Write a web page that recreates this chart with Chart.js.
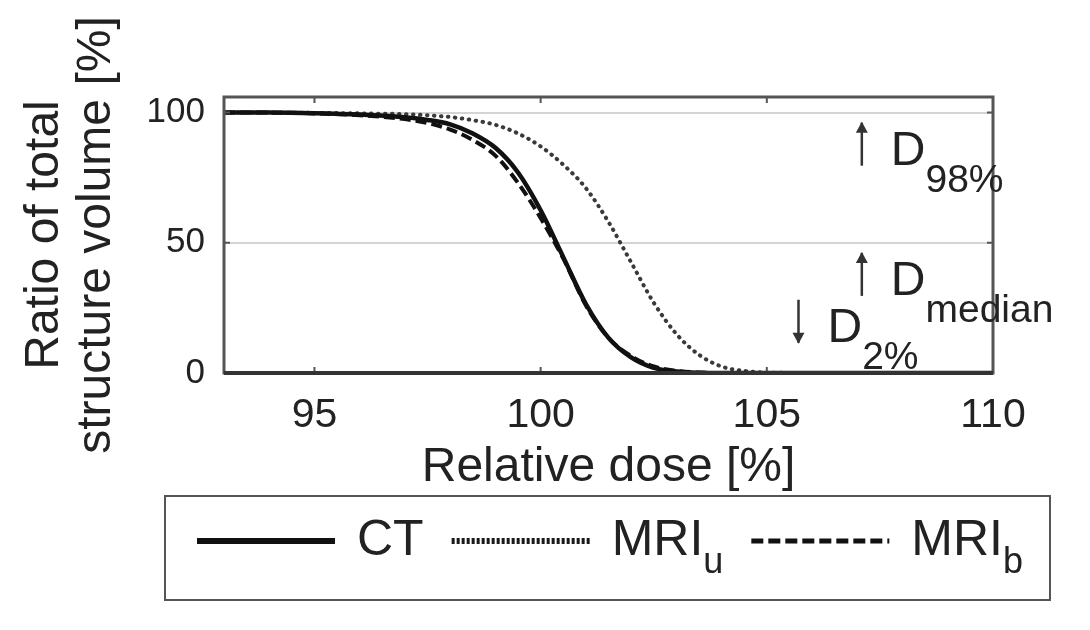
<!DOCTYPE html>
<html>
<head>
<meta charset="utf-8">
<script src="https://cdn.jsdelivr.net/npm/chart.js@4"></script>
<style>
  html, body { margin: 0; padding: 0; background: #fff; }
</style>
</head>
<body>
<canvas id="dvh-chart" width="1090" height="630"></canvas>
<script>
// dose-volume histogram: CT vs MRI
const doses = [93, 94, 95, 96, 97, 97.5, 98, 98.5, 99, 99.5, 100, 100.5, 101, 101.5, 102, 102.5, 103, 103.5, 104, 104.5, 105, 106, 107, 108, 109, 110];
const ct   = [100, 100, 99.8, 99.3, 98.2, 97.2, 95.5, 92, 86.5, 77, 62.5, 44.5, 26.5, 13.5, 6, 2, 0.6, 0.1, 0, 0, 0, 0, 0, 0, 0, 0];
const mriU = [100, 100, 99.9, 99.7, 99.4, 99, 98.3, 97.1, 95.3, 92, 87, 80, 71, 58, 42.5, 27, 15, 7, 2.5, 0.8, 0.2, 0, 0, 0, 0, 0];
const mriB = [100, 100, 99.7, 99, 97.5, 96, 93.5, 89.5, 83.5, 73, 59.5, 44, 26, 13.5, 6.5, 2.5, 0.8, 0.2, 0, 0, 0, 0, 0, 0, 0, 0];

const xTicks = [95, 100, 105, 110];
const yTicks = [0, 50, 100];

// arrows + labels on the right side of the plot (x = arrow centre, y = baseline)
const notes = [
  { x: 107.1, y: 80, dir: 1, sub: "98%" },
  { x: 107.1, y: 30, dir: 1, sub: "median" },
  { x: 105.7, y: 12, dir: -1, sub: "2%" }
];

const FONT = '"Liberation Sans", Arial, sans-serif';
const INK = "#222";
Chart.defaults.font.family = FONT;

function points(ys) {
  return doses.map((d, i) => ({ x: d, y: ys[i] }));
}

function drawArrow(ctx, x, base, dir) {
  // thin vertical arrow, 42px tall, head at top (dir 1) or bottom (dir -1)
  const top = base - 42, bot = base + 1;
  ctx.strokeStyle = "#333";
  ctx.fillStyle = "#333";
  ctx.lineWidth = 2.5;
  ctx.beginPath();
  ctx.moveTo(x, top); ctx.lineTo(x, bot);
  ctx.stroke();
  const tip = dir > 0 ? top - 1 : bot + 1;
  const back = dir > 0 ? tip + 11 : tip - 11;
  ctx.beginPath();
  ctx.moveTo(x, tip);
  ctx.lineTo(x - 6, back);
  ctx.lineTo(x + 6, back);
  ctx.closePath();
  ctx.fill();
}

const frame = {
  id: "frame",
  afterDraw(chart) {
    const { ctx, chartArea: a, scales } = chart;
    ctx.save();

    // small inward ticks
    ctx.strokeStyle = "#555";
    ctx.lineWidth = 2;
    for (const v of xTicks) {
      const px = scales.x.getPixelForValue(v);
      ctx.beginPath();
      ctx.moveTo(px, a.top); ctx.lineTo(px, a.top + 6);
      ctx.moveTo(px, a.bottom); ctx.lineTo(px, a.bottom - 6);
      ctx.stroke();
    }
    for (const v of yTicks) {
      const py = scales.y.getPixelForValue(v);
      ctx.beginPath();
      ctx.moveTo(a.left, py); ctx.lineTo(a.left + 6, py);
      ctx.moveTo(a.right, py); ctx.lineTo(a.right - 6, py);
      ctx.stroke();
    }

    // box
    ctx.strokeStyle = "#555";
    ctx.lineWidth = 3;
    ctx.strokeRect(a.left, a.top, a.right - a.left, a.bottom - a.top);
    ctx.strokeStyle = "#333";
    ctx.lineWidth = 4;
    ctx.beginPath();
    ctx.moveTo(a.left, a.bottom); ctx.lineTo(a.right, a.bottom);
    ctx.stroke();

    // annotations
    ctx.textBaseline = "alphabetic";
    ctx.textAlign = "left";
    for (const n of notes) {
      const px = scales.x.getPixelForValue(n.x);
      const py = scales.y.getPixelForValue(n.y);
      drawArrow(ctx, px, py, n.dir);
      ctx.fillStyle = INK;
      ctx.font = "48px " + FONT;
      ctx.fillText("D", px + 29, py);
      const dw = ctx.measureText("D").width;
      ctx.font = "39px " + FONT;
      ctx.fillText(n.sub, px + 29 + dw, py + 27);
    }

    // legend
    const bx = 165, by = 496, bw = 885, bh = 104;
    ctx.strokeStyle = "#555";
    ctx.lineWidth = 2;
    ctx.strokeRect(bx, by, bw, bh);
    let lx = 197;
    const ly = 541;
    for (const ds of chart.data.datasets) {
      ctx.strokeStyle = ds.legendColor || ds.borderColor;
      ctx.lineWidth = ds.legendWidth;
      ctx.setLineDash(ds.legendDash || []);
      ctx.beginPath();
      ctx.moveTo(lx, ly); ctx.lineTo(lx + 138, ly);
      ctx.stroke();
      ctx.setLineDash([]);
      lx += 160;
      ctx.fillStyle = INK;
      ctx.font = "50px " + FONT;
      ctx.textBaseline = "middle";
      ctx.fillText(ds.label, lx, ly);
      lx += ctx.measureText(ds.label).width;
      if (ds.labelSub) {
        ctx.font = "36px " + FONT;
        ctx.fillText(ds.labelSub, lx, ly + 22);
        lx += ctx.measureText(ds.labelSub).width;
      }
      lx += 28;
    }
    ctx.restore();
  }
};

new Chart(document.getElementById("dvh-chart"), {
  type: "line",
  data: {
    datasets: [
      {
        label: "CT",
        data: points(ct),
        borderColor: "#111",
        borderWidth: 4.5,
        legendWidth: 6,
        pointRadius: 0,
        cubicInterpolationMode: "monotone"
      },
      {
        label: "MRI",
        labelSub: "u",
        data: points(mriU),
        borderColor: "#3a3a3a",
        borderWidth: 4,
        borderDash: [0.5, 6.5],
        borderCapStyle: "round",
        legendColor: "#1a1a1a",
        legendDash: [3, 2],
        legendWidth: 6,
        pointRadius: 0,
        cubicInterpolationMode: "monotone"
      },
      {
        label: "MRI",
        labelSub: "b",
        data: points(mriB),
        borderColor: "#111",
        borderWidth: 4,
        borderDash: [11, 5],
        legendDash: [12, 5],
        legendWidth: 5,
        pointRadius: 0,
        cubicInterpolationMode: "monotone"
      }
    ]
  },
  options: {
    responsive: false,
    animation: false,
    layout: { padding: { left: 0, top: 97, right: 97, bottom: 127 } },
    plugins: { legend: { display: false }, tooltip: { enabled: false } },
    scales: {
      x: {
        type: "linear",
        min: 93,
        max: 110,
        afterBuildTicks: s => { s.ticks = xTicks.map(v => ({ value: v })); },
        afterFit: s => { s.height = 130; },
        grid: { display: false, drawTicks: false },
        border: { display: false },
        ticks: { font: { size: 41 }, color: INK, padding: 18, maxRotation: 0, autoSkip: false },
        title: {
          display: true,
          text: "Relative dose [%]",
          font: { size: 48 },
          color: INK,
          padding: { top: 0, bottom: 6 }
        }
      },
      y: {
        min: 0,
        max: 106,
        afterBuildTicks: s => { s.ticks = yTicks.map(v => ({ value: v })); },
        afterFit: s => { s.width = 224; },
        grid: { color: "#d4d4d4", lineWidth: 2, drawTicks: false },
        border: { display: false },
        ticks: { font: { size: 35 }, color: INK, padding: 19 },
        title: {
          display: true,
          text: ["Ratio of total", "structure volume [%]"],
          font: { size: 48, lineHeight: 1.1 },
          color: INK,
          padding: { top: 18, bottom: 0 }
        }
      }
    }
  },
  plugins: [frame]
});
</script>
</body>
</html>
